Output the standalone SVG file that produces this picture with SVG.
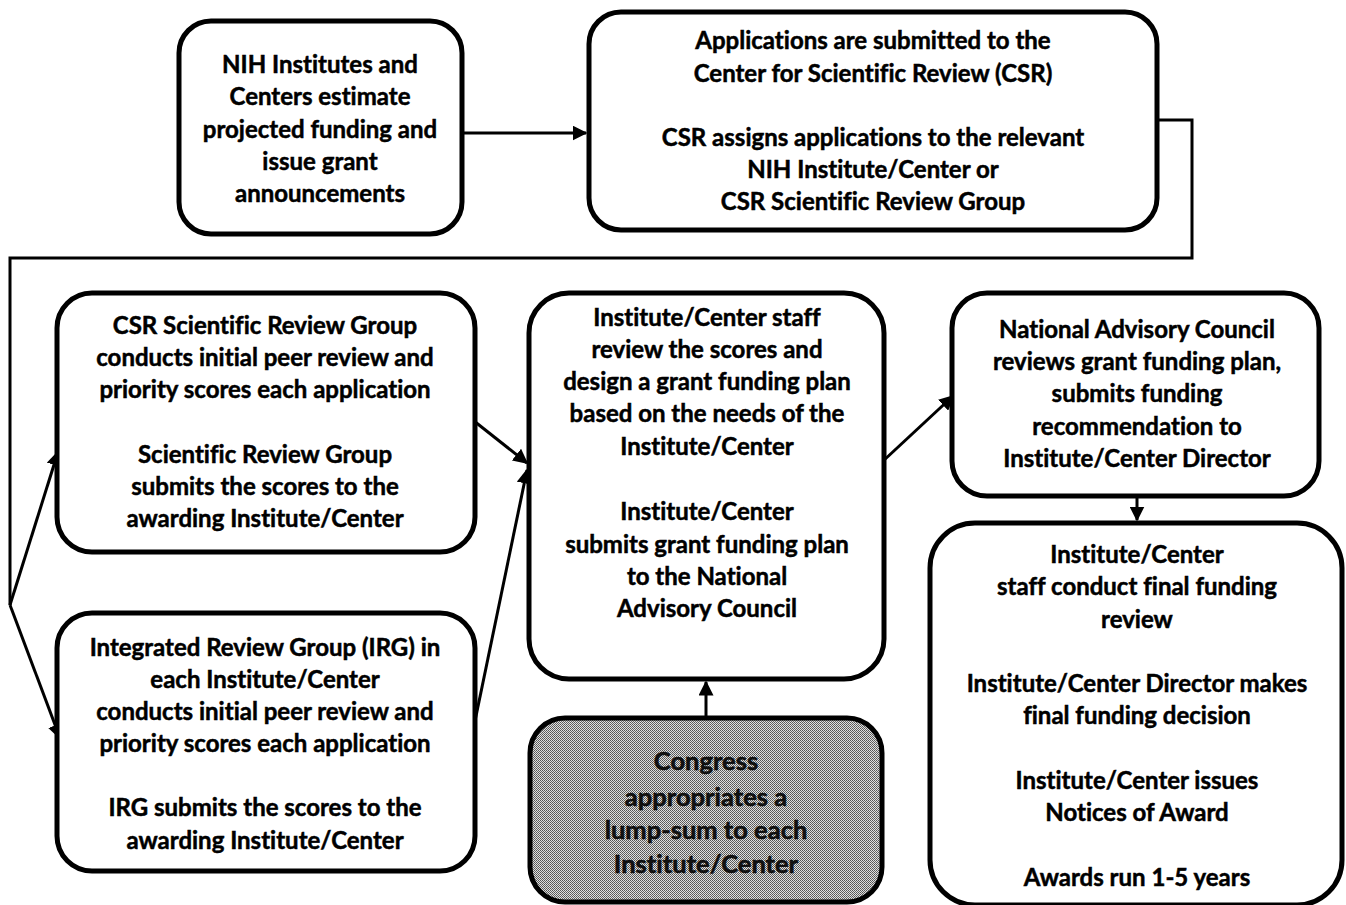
<svg xmlns="http://www.w3.org/2000/svg" width="1346" height="905" viewBox="0 0 1346 905">
<style>
.box{fill:#fff;stroke:#000;stroke-width:5}
.t{font-family:Lato,"Liberation Sans",sans-serif;font-weight:bold;font-size:24px;fill:#000;stroke:#000;stroke-width:0.5;text-anchor:middle;font-variant-ligatures:none}
.g{font-size:25.5px;fill:#111}
.c{fill:none;stroke:#000;stroke-width:3}
</style>
<defs>
<marker id="ah" viewBox="0 0 10 10" refX="9" refY="5" markerWidth="5" markerHeight="5" orient="auto" markerUnits="strokeWidth">
<path d="M0,0 L10,5 L0,10 z" fill="#000"/>
</marker>
<pattern id="hatch" width="2" height="2" patternUnits="userSpaceOnUse">
<rect width="2" height="2" fill="#e0e0e0"/>
<rect width="1" height="1" fill="#555"/>
<rect x="1" y="1" width="1" height="1" fill="#666"/>
</pattern>
</defs>
<rect width="1346" height="905" fill="#fff"/>

<g id="connectors">
<line class="c" x1="463" y1="133" x2="586" y2="133" marker-end="url(#ah)"/>
<polyline class="c" points="1158,120 1192,120 1192,258 10,258 10,605"/>
<line class="c" x1="10" y1="605" x2="58" y2="452" marker-end="url(#ah)"/>
<line class="c" x1="10" y1="605" x2="60" y2="738" marker-end="url(#ah)"/>
<line class="c" x1="474" y1="421" x2="527" y2="463" marker-end="url(#ah)"/>
<line class="c" x1="470" y1="745" x2="527" y2="470" marker-end="url(#ah)"/>
<line class="c" x1="882" y1="462" x2="953" y2="396" marker-end="url(#ah)"/>
<line class="c" x1="1137" y1="497" x2="1137" y2="520" marker-end="url(#ah)"/>
<line class="c" x1="706" y1="717" x2="706" y2="682" marker-end="url(#ah)"/>
</g>

<g id="n1">
<rect class="box" x="179" y="21" width="283" height="213" rx="32"/>
<text class="t" x="320" y="73">NIH Institutes and</text>
<text class="t" x="320" y="105">Centers estimate</text>
<text class="t" x="320" y="138">projected funding  and</text>
<text class="t" x="320" y="170">issue grant</text>
<text class="t" x="320" y="202">announcements</text>
</g>

<g id="n2">
<rect class="box" x="589" y="12" width="568" height="218" rx="32"/>
<text class="t" x="873" y="49">Applications  are submitted to the</text>
<text class="t" x="873" y="82">Center for Scientific  Review (CSR)</text>
<text class="t" x="873" y="146">CSR assigns applications  to the relevant</text>
<text class="t" x="873" y="178">NIH Institute/Center or</text>
<text class="t" x="873" y="210">CSR Scientific  Review Group</text>
</g>

<g id="n3">
<rect class="box" x="57" y="293" width="418" height="259" rx="35"/>
<text class="t" x="265" y="334">CSR Scientific  Review Group</text>
<text class="t" x="265" y="366">conducts initial  peer review and</text>
<text class="t" x="265" y="398">priority scores each application</text>
<text class="t" x="265" y="463">Scientific Review Group</text>
<text class="t" x="265" y="495">submits the scores to the</text>
<text class="t" x="265" y="527">awarding Institute/Center</text>
</g>

<g id="n4">
<rect class="box" x="57" y="613" width="418" height="258" rx="35"/>
<text class="t" x="265" y="656">Integrated Review Group (IRG) in</text>
<text class="t" x="265" y="688">each Institute/Center</text>
<text class="t" x="265" y="720">conducts initial  peer review and</text>
<text class="t" x="265" y="752">priority scores each application</text>
<text class="t" x="265" y="816">IRG submits the scores to the</text>
<text class="t" x="265" y="849">awarding Institute/Center</text>
</g>

<g id="n5">
<rect class="box" x="529" y="293" width="355" height="386" rx="40"/>
<text class="t" x="707" y="326">Institute/Center staff</text>
<text class="t" x="707" y="358">review the scores and</text>
<text class="t" x="707" y="390">design a grant funding  plan</text>
<text class="t" x="707" y="422">based on the needs of the</text>
<text class="t" x="707" y="455">Institute/Center</text>
<text class="t" x="707" y="520">Institute/Center</text>
<text class="t" x="707" y="553">submits grant funding  plan</text>
<text class="t" x="707" y="585">to the National</text>
<text class="t" x="707" y="617">Advisory Council</text>
</g>

<g id="n6">
<rect class="box" x="952" y="293" width="367" height="203" rx="35"/>
<text class="t" x="1137" y="338">National Advisory  Council</text>
<text class="t" x="1137" y="370">reviews grant funding  plan,</text>
<text class="t" x="1137" y="402">submits funding</text>
<text class="t" x="1137" y="435">recommendation to</text>
<text class="t" x="1137" y="467">Institute/Center Director</text>
</g>

<g id="n7">
<rect class="box" x="930" y="523" width="412" height="382" rx="45"/>
<text class="t" x="1137" y="563">Institute/Center</text>
<text class="t" x="1137" y="595">staff conduct final  funding</text>
<text class="t" x="1137" y="628">review</text>
<text class="t" x="1137" y="692">Institute/Center Director makes</text>
<text class="t" x="1137" y="724">final funding  decision</text>
<text class="t" x="1137" y="789">Institute/Center issues</text>
<text class="t" x="1137" y="821">Notices of Award</text>
<text class="t" x="1137" y="886">Awards run 1-5 years</text>
</g>

<g id="n8">
<rect class="box" x="530" y="718" width="352" height="184" rx="35" style="fill:url(#hatch)"/>
<text class="t g" x="706" y="770">Congress</text>
<text class="t g" x="706" y="806">appropriates a</text>
<text class="t g" x="706" y="839">lump-sum to each</text>
<text class="t g" x="706" y="873">Institute/Center</text>
</g>
</svg>
